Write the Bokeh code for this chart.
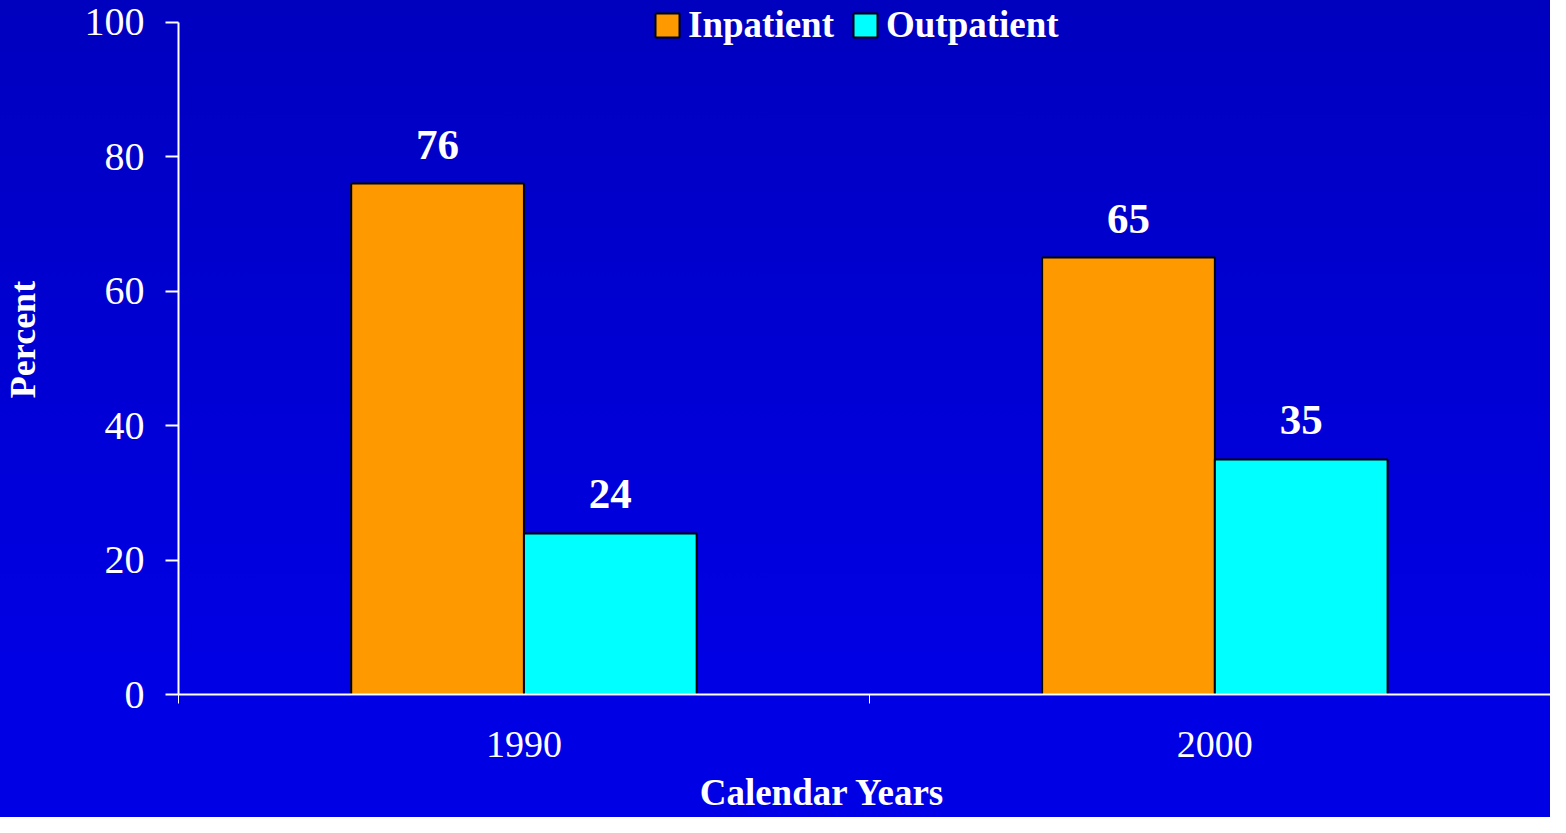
from bokeh.plotting import figure
from bokeh.models import (Range1d, FixedTicker, ColumnDataSource, LabelSet, Legend,
                          LegendItem, Label)
from bokeh.transform import dodge
from bokeh.core.properties import value
from bokeh.embed import file_html
from bokeh.resources import INLINE

# ---- data ----
years = ["1990", "2000"]
series = ["Inpatient", "Outpatient"]
inpatient = [76, 65]
outpatient = [24, 35]
y_ticks = [0, 20, 40, 60, 80, 100]
colors = ["#FF9900", "#00FFFF"]
x_title = "Calendar Years"
y_title = "Percent"

FONT_NAME = "Liberation Serif"
FONT = value(FONT_NAME)

xc = [i + 0.5 for i in range(len(years))]
boundaries = list(range(len(years) + 1))
src = ColumnDataSource(dict(
    x=xc, year=years, inpatient=inpatient, outpatient=outpatient,
    in_lbl=[str(v) for v in inpatient], out_lbl=[str(v) for v in outpatient],
))

# the plot frame fills the whole figure; axes are drawn at fixed locations inside it
p = figure(width=1550, height=817, output_backend="svg", toolbar_location=None,
           x_range=Range1d(-0.2576, 1.9858), y_range=Range1d(-18.22, 103.21),
           min_border=0, min_border_left=0, min_border_right=0,
           min_border_top=0, min_border_bottom=0)
p.background_fill_color = None
p.border_fill_color = None
p.outline_line_color = None
p.styles = {"background": "linear-gradient(to bottom, #0000BF 0%, #0000E4 80%, #0000E6 100%)"}
p.grid.visible = False

bw = 0.25
r1 = p.vbar(x=dodge("x", -bw / 2), top="inpatient", width=bw, source=src,
            fill_color=colors[0], line_color="black", line_width=2)
r2 = p.vbar(x=dodge("x", bw / 2), top="outpatient", width=bw, source=src,
            fill_color=colors[1], line_color="black", line_width=2)

for xf, col, ycol in [(dodge("x", -bw / 2), "in", "inpatient"), (dodge("x", bw / 2), "out", "outpatient")]:
    p.add_layout(LabelSet(x=xf, y=ycol, text=col + "_lbl", source=src, y_offset=25,
                          text_align="center", text_baseline="alphabetic",
                          text_font=FONT, text_font_style="bold", text_font_size="43px",
                          text_color="white"))

legend = Legend(items=[LegendItem(label=series[0], renderers=[r1]),
                       LegendItem(label=series[1], renderers=[r2])],
                orientation="horizontal", location=(652, 771), padding=0, margin=0,
                spacing=16, glyph_width=30, glyph_height=30, label_standoff=6,
                label_text_font=FONT_NAME, label_text_font_size="37px", label_text_font_style="bold",
                label_text_color="white", border_line_color=None, background_fill_alpha=0)
p.add_layout(legend)

# y axis
ya = p.yaxis[0]
ya.fixed_location = boundaries[0]
ya.ticker = FixedTicker(ticks=y_ticks)
ya.bounds = (y_ticks[0], y_ticks[-1])
ya.axis_line_color = "white"
ya.axis_line_width = 2
ya.major_tick_line_color = "white"
ya.major_tick_line_width = 2
ya.major_tick_in = 0
ya.major_tick_out = 13
ya.minor_tick_line_color = None
ya.major_label_text_font = FONT_NAME
ya.major_label_text_font_size = "40px"
ya.major_label_text_color = "white"
ya.major_label_standoff = 21

# x axis: category labels, ticks at category boundaries
xa = p.xaxis[0]
xa.fixed_location = y_ticks[0]
xa.ticker = FixedTicker(ticks=xc, minor_ticks=boundaries)
xa.bounds = (boundaries[0], boundaries[-1])
xa.major_label_overrides = {x: y for x, y in zip(xc, years)}
xa.axis_line_color = "white"
xa.axis_line_width = 2
xa.major_tick_line_color = None
xa.major_tick_in = 0
xa.major_tick_out = 0
xa.minor_tick_line_color = "white"
xa.minor_tick_line_width = 1
xa.minor_tick_in = 0
xa.minor_tick_out = 9
xa.major_label_text_font = FONT_NAME
xa.major_label_text_font_size = "38px"
xa.major_label_text_color = "white"
xa.major_label_standoff = 28

# axis titles
p.add_layout(Label(x=822, y=25, x_units="screen", y_units="screen", text=x_title,
                   text_align="center", text_baseline="alphabetic",
                   text_font=FONT_NAME, text_font_style="bold", text_font_size="37px",
                   text_color="white"))
p.add_layout(Label(x=22, y=478, x_units="screen", y_units="screen", text=y_title,
                   angle=90, angle_units="deg",
                   text_align="center", text_baseline="alphabetic",
                   text_font=FONT_NAME, text_font_style="bold", text_font_size="36px",
                   text_color="white"))

open("out.html", "w").write(file_html(p, INLINE))
